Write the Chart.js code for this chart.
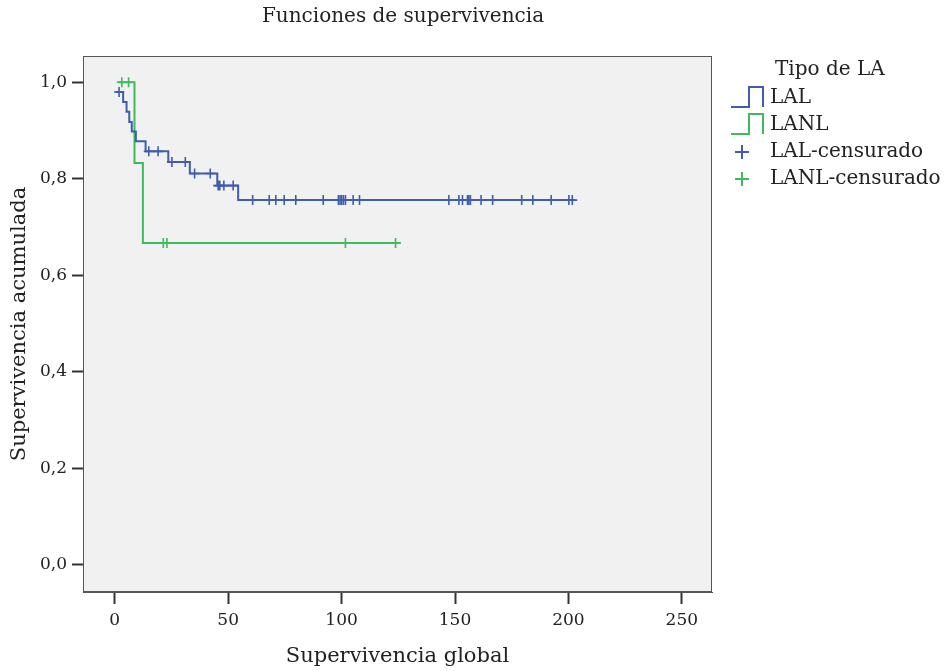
<!DOCTYPE html>
<html lang="es">
<head>
  <meta charset="UTF-8" />
  <title>Funciones de supervivencia</title>
  <script src="https://cdn.jsdelivr.net/npm/chart.js"></script>
  <style>
    html, body { margin: 0; padding: 0; background: #fff; }
    #wrap { width: 945px; height: 671px; position: relative; }
  </style>
</head>
<body>
  <div id="wrap"><canvas id="grafico" width="945" height="671"></canvas></div>

  <script>
    // Kaplan-Meier: tiempos de evento y supervivencia tras cada evento
    const lalTiempos = [0.5, 3.7, 5.2, 6.4, 7.5, 9.3, 13.6, 23.6, 33.1, 45.2, 54.4, 202.9];
    const lalSuperv = [0.98, 0.959, 0.939, 0.918, 0.898, 0.878, 0.857, 0.835, 0.811, 0.786, 0.756, 0.756];
    const lanlTiempos = [1.5, 8.7, 12.4, 126.1];
    const lanlSuperv = [1, 0.833, 0.667, 0.667];

    // casos censurados
    const lalCensT = [1.9, 15, 19.1, 25.2, 31.1, 35.2, 42.1, 45.6, 46.3, 48.1, 52.2,
      60.8, 68.1, 71, 74.7, 79.8, 91.9, 98.6, 99.3, 100, 100.8, 101.7, 105.1, 107.9,
      147.3, 151.7, 153.3, 155.5, 156.1, 156.8, 161.5, 166.6, 179.4, 184.3, 192.4, 200.2, 201.7];
    const lalCensS = [0.98, 0.857, 0.857, 0.835, 0.835, 0.811, 0.811, 0.786, 0.786, 0.786, 0.786,
      0.756, 0.756, 0.756, 0.756, 0.756, 0.756, 0.756, 0.756, 0.756, 0.756, 0.756, 0.756, 0.756,
      0.756, 0.756, 0.756, 0.756, 0.756, 0.756, 0.756, 0.756, 0.756, 0.756, 0.756, 0.756, 0.756];
    const lanlCensT = [3.1, 6.1, 21.4, 23, 101.7, 123.8];
    const lanlCensS = [1, 1, 0.667, 0.667, 0.667, 0.667];

    const xTicks = [0, 50, 100, 150, 200, 250];
    const yTicks = [0, 0.2, 0.4, 0.6, 0.8, 1.0];

    const azul = "#3f5dae";
    const verde = "#3fba5c";
    const serif = "'DejaVu Serif', serif";

    const puntos = (xs, ys) => xs.map((x, i) => ({ x: x, y: ys[i] }));

    const fondo = {
      id: "fondo",
      beforeDatasetsDraw(chart) {
        const a = chart.chartArea, ctx = chart.ctx;
        ctx.save();
        ctx.fillStyle = "#f0f1f0";
        ctx.fillRect(a.left, a.top, a.right - a.left, a.bottom - a.top);
        ctx.strokeStyle = "#555";
        ctx.lineWidth = 1;
        ctx.strokeRect(a.left + 0.5, a.top + 0.5, a.right - a.left - 1, a.bottom - a.top - 1);
        ctx.restore();
      }
    };

    // título y leyenda
    const leyenda = {
      id: "leyenda",
      afterDraw(chart) {
        const ctx = chart.ctx;
        ctx.save();
        ctx.fillStyle = "#222";
        ctx.textBaseline = "middle";
        ctx.textAlign = "center";
        ctx.font = "20px " + serif;
        ctx.fillText("Funciones de supervivencia", 403, 17);

        ctx.textAlign = "left";
        const x0 = chart.chartArea.right + 19;
        ctx.fillText("Tipo de LA", x0 + 44, 70);
        const items = [
          { t: "LAL", c: azul, y: 98, paso: true },
          { t: "LANL", c: verde, y: 125, paso: true },
          { t: "LAL-censurado", c: azul, y: 152, paso: false },
          { t: "LANL-censurado", c: verde, y: 179, paso: false }
        ];
        items.forEach(it => {
          ctx.strokeStyle = it.c;
          ctx.lineWidth = 2;
          ctx.beginPath();
          if (it.paso) {
            ctx.moveTo(x0, it.y + 9);
            ctx.lineTo(x0 + 18, it.y + 9);
            ctx.lineTo(x0 + 18, it.y - 11);
            ctx.lineTo(x0 + 32, it.y - 11);
            ctx.lineTo(x0 + 32, it.y + 9);
          } else {
            ctx.moveTo(x0 + 4, it.y);
            ctx.lineTo(x0 + 18, it.y);
            ctx.moveTo(x0 + 11, it.y - 7);
            ctx.lineTo(x0 + 11, it.y + 7);
          }
          ctx.stroke();
          ctx.fillStyle = "#222";
          ctx.fillText(it.t, x0 + 39, it.y);
        });
        ctx.restore();
      }
    };

    new Chart(document.getElementById("grafico"), {
      type: "line",
      data: {
        datasets: [
          {
            label: "LAL",
            data: puntos(lalTiempos, lalSuperv),
            borderColor: azul,
            borderWidth: 2,
            pointRadius: 0,
            stepped: "before",
            fill: false
          },
          {
            label: "LANL",
            data: puntos(lanlTiempos, lanlSuperv),
            borderColor: verde,
            borderWidth: 2,
            pointRadius: 0,
            stepped: "before",
            fill: false
          },
          {
            label: "LAL-censurado",
            data: puntos(lalCensT, lalCensS),
            showLine: false,
            pointStyle: "cross",
            pointRadius: 5,
            borderColor: azul,
            borderWidth: 1.6
          },
          {
            label: "LANL-censurado",
            data: puntos(lanlCensT, lanlCensS),
            showLine: false,
            pointStyle: "cross",
            pointRadius: 5,
            borderColor: verde,
            borderWidth: 1.6
          }
        ]
      },
      options: {
        responsive: false,
        animation: false,
        layout: { padding: { left: 0, right: 233, top: 56, bottom: 0 } },
        scales: {
          x: {
            type: "linear",
            min: -14,
            max: 263.3,
            afterBuildTicks: s => { s.ticks = xTicks.map(v => ({ value: v })); },
            afterFit: s => { s.height = 79; },
            grid: { drawOnChartArea: false, tickLength: 12, color: "#333", tickWidth: 2 },
            border: { color: "#555" },
            ticks: { color: "#222", font: { family: serif, size: 17 }, padding: 6, maxRotation: 0 },
            title: {
              display: true, text: "Supervivencia global", color: "#222",
              font: { family: serif, size: 21 }, padding: { top: 4, bottom: 2 }
            }
          },
          y: {
            min: -0.056,
            max: 1.0545,
            afterBuildTicks: s => { s.ticks = yTicks.map(v => ({ value: v })); },
            afterFit: s => { s.width = 83; },
            grid: { drawOnChartArea: false, tickLength: 11, color: "#333", tickWidth: 2 },
            border: { color: "#555" },
            ticks: {
              color: "#222",
              font: { family: serif, size: 17 },
              padding: 5,
              callback: v => v.toFixed(1).replace(".", ",")
            },
            title: {
              display: true, text: "Supervivencia acumulada", color: "#222",
              font: { family: serif, size: 21 }, padding: { top: 7, bottom: 4 }
            }
          }
        },
        plugins: {
          legend: { display: false },
          tooltip: { enabled: false },
          title: { display: false }
        }
      },
      plugins: [fondo, leyenda]
    });
  </script>
</body>
</html>
